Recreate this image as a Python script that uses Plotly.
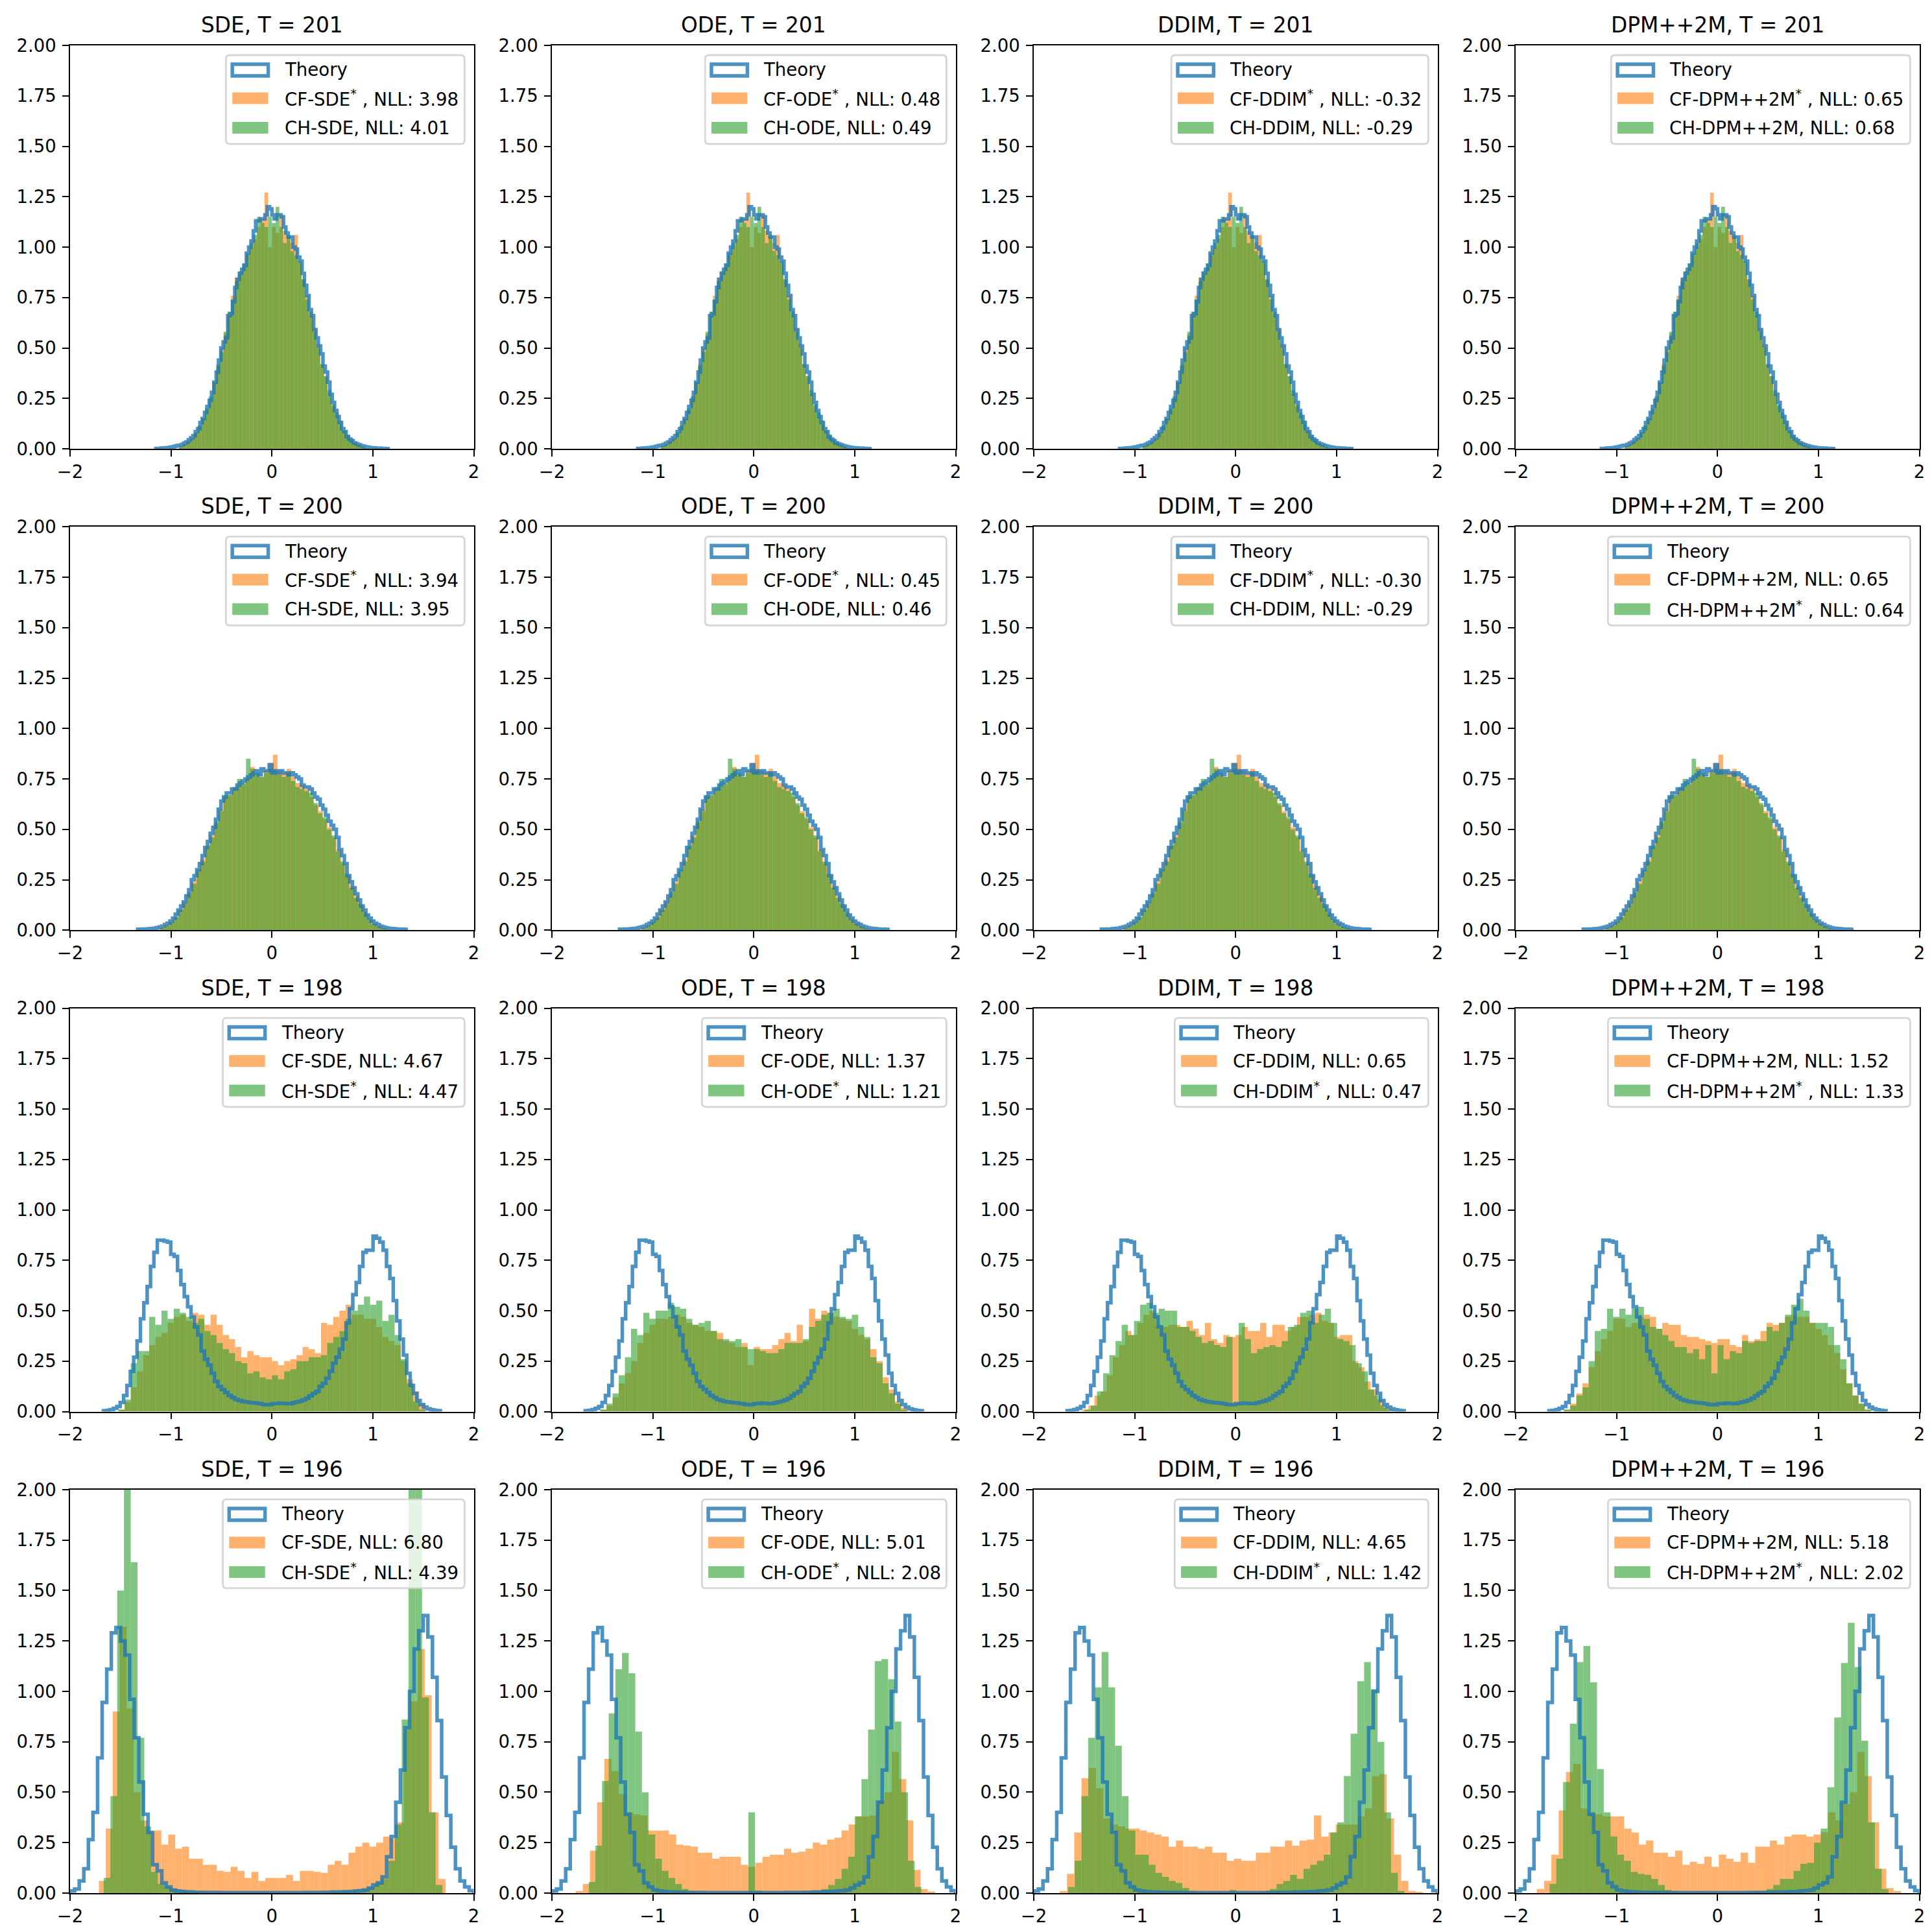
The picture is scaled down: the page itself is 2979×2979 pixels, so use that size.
import plotly.graph_objects as go

# ---------------- data ----------------
SAMPLERS = ["SDE", "ODE", "DDIM", "DPM++2M"]
T_VALUES = [201, 200, 198, 196]

CF_NLL = [[3.98, 0.48, -0.32, 0.65], [3.94, 0.45, -0.30, 0.65],
          [4.67, 1.37, 0.65, 1.52], [6.80, 5.01, 4.65, 5.18]]
CH_NLL = [[4.01, 0.49, -0.29, 0.68], [3.95, 0.46, -0.29, 0.64],
          [4.47, 1.21, 0.47, 1.33], [4.39, 2.08, 1.42, 2.02]]
CF_STAR = [[1, 1, 1, 1], [1, 1, 1, 0], [0, 0, 0, 0], [0, 0, 0, 0]]
CH_STAR = [[0, 0, 0, 0], [0, 0, 0, 1], [1, 1, 1, 1], [1, 1, 1, 1]]

# theory histograms (density), one per T, equal-width bins over the given range
THEORY_RANGE = [(-1.15, 1.15), (-1.33, 1.33), (-1.67, 1.67), (-2.0, 2.0)]
THEORY_T201 = [0.002, 0.002, 0.003, 0.004, 0.005, 0.006, 0.008, 0.010, 0.013, 0.016,
               0.018, 0.022, 0.028, 0.034, 0.045, 0.055, 0.065, 0.085, 0.10, 0.13,
               0.15, 0.18, 0.21, 0.24, 0.28, 0.33, 0.38, 0.44, 0.50, 0.53,
               0.55, 0.66, 0.67, 0.73, 0.80, 0.84, 0.87, 0.89, 0.91, 0.97,
               1.00, 1.03, 1.08, 1.13, 1.13, 1.14, 1.14, 1.16, 1.20, 1.19,
               1.16, 1.14, 1.16, 1.16, 1.15, 1.10, 1.07, 1.05, 1.05, 1.00,
               0.99, 0.95, 0.93, 0.87, 0.81, 0.76, 0.69, 0.66, 0.59, 0.55,
               0.51, 0.47, 0.41, 0.38, 0.33, 0.27, 0.23, 0.19, 0.16, 0.13,
               0.10, 0.085, 0.06, 0.048, 0.04, 0.03, 0.025, 0.02, 0.016, 0.013,
               0.010, 0.008, 0.006, 0.005, 0.004, 0.003, 0.003, 0.002, 0.002, 0.001]
THEORY_T200 = [0.005, 0.005, 0.006, 0.006, 0.007, 0.008, 0.010, 0.013, 0.016, 0.020,
               0.028, 0.035, 0.045, 0.060, 0.080, 0.10, 0.12, 0.14, 0.17, 0.20,
               0.25, 0.27, 0.30, 0.33, 0.37, 0.41, 0.44, 0.48, 0.51, 0.55,
               0.60, 0.64, 0.66, 0.68, 0.68, 0.70, 0.70, 0.72, 0.73, 0.74,
               0.75, 0.76, 0.77, 0.78, 0.79, 0.77, 0.80, 0.79, 0.79, 0.82,
               0.78, 0.79, 0.78, 0.79, 0.78, 0.78, 0.77, 0.78, 0.77, 0.76,
               0.75, 0.72, 0.71, 0.71, 0.70, 0.68, 0.66, 0.65, 0.62, 0.60,
               0.57, 0.54, 0.52, 0.50, 0.46, 0.40, 0.37, 0.33, 0.27, 0.24,
               0.21, 0.18, 0.15, 0.12, 0.10, 0.075, 0.06, 0.045, 0.035, 0.028,
               0.020, 0.016, 0.012, 0.010, 0.008, 0.007, 0.006, 0.005, 0.005, 0.004]
THEORY_T198 = [0.004, 0.006, 0.010, 0.016, 0.025, 0.045, 0.08, 0.13, 0.20, 0.27,
               0.35, 0.46, 0.54, 0.62, 0.72, 0.79, 0.85, 0.85, 0.845, 0.84,
               0.78, 0.77, 0.70, 0.63, 0.57, 0.52, 0.47, 0.42, 0.38, 0.30,
               0.26, 0.23, 0.19, 0.15, 0.125, 0.11, 0.095, 0.08, 0.07, 0.06,
               0.055, 0.05, 0.048, 0.045, 0.044, 0.042, 0.04, 0.036, 0.034, 0.035,
               0.04, 0.04, 0.042, 0.041, 0.04, 0.04, 0.044, 0.048, 0.052, 0.058,
               0.066, 0.078, 0.09, 0.10, 0.125, 0.14, 0.165, 0.20, 0.24, 0.27,
               0.31, 0.36, 0.44, 0.51, 0.58, 0.64, 0.72, 0.79, 0.80, 0.80,
               0.87, 0.86, 0.84, 0.80, 0.72, 0.66, 0.55, 0.45, 0.36, 0.28,
               0.19, 0.13, 0.09, 0.055, 0.035, 0.022, 0.014, 0.009, 0.006, 0.004]
THEORY_T196 = [0.01, 0.02, 0.06, 0.12, 0.265, 0.40, 0.67, 0.945, 1.11, 1.29,
               1.316, 1.25, 1.18, 0.96, 0.77, 0.55, 0.39, 0.30, 0.14, 0.11,
               0.05, 0.03, 0.015, 0.01, 0.008, 0.006, 0.005, 0.004, 0.004, 0.003,
               0.003, 0.003, 0.003, 0.002, 0.002, 0.002, 0.002, 0.002, 0.002, 0.002,
               0.002, 0.002, 0.002, 0.002, 0.002, 0.002, 0.002, 0.002, 0.002, 0.002,
               0.002, 0.003, 0.003, 0.003, 0.003, 0.004, 0.004, 0.005, 0.005, 0.006,
               0.007, 0.008, 0.01, 0.012, 0.015, 0.025, 0.04, 0.05, 0.08, 0.18,
               0.28, 0.45, 0.61, 0.82, 1.00, 1.21, 1.30, 1.376, 1.27, 1.07,
               0.855, 0.575, 0.385, 0.227, 0.12, 0.06, 0.03, 0.012]
THEORY = [THEORY_T201, THEORY_T200, THEORY_T198, THEORY_T196]

# sampled histograms (50 bins each)
CF_T201 = [0.015, 0.025, 0.04, 0.055, 0.08, 0.11, 0.15, 0.19, 0.25, 0.33,
           0.42, 0.50, 0.57, 0.66, 0.76, 0.85, 0.86, 0.90, 0.96, 1.00,
           1.04, 1.10, 1.14, 1.27, 1.00, 1.10, 1.07, 1.16, 1.08, 1.05,
           1.02, 1.06, 0.92, 0.84, 0.76, 0.66, 0.60, 0.52, 0.42, 0.36,
           0.27, 0.21, 0.16, 0.12, 0.09, 0.06, 0.04, 0.03, 0.02, 0.012]
CH_T201 = [0.012, 0.02, 0.035, 0.05, 0.08, 0.115, 0.15, 0.20, 0.26, 0.33,
           0.41, 0.48, 0.58, 0.68, 0.74, 0.83, 0.88, 0.92, 0.97, 1.02,
           1.06, 1.15, 1.12, 1.10, 1.15, 1.12, 1.20, 1.10, 1.02, 1.06,
           0.98, 0.96, 0.93, 0.84, 0.74, 0.68, 0.58, 0.50, 0.42, 0.36,
           0.29, 0.22, 0.18, 0.14, 0.09, 0.07, 0.05, 0.03, 0.02, 0.01]
CF_T200 = [0.012, 0.025, 0.04, 0.06, 0.10, 0.14, 0.18, 0.24, 0.29, 0.35,
           0.41, 0.47, 0.53, 0.60, 0.66, 0.67, 0.70, 0.71, 0.72, 0.75,
           0.81, 0.77, 0.76, 0.79, 0.83, 0.87, 0.79, 0.78, 0.80, 0.76,
           0.73, 0.72, 0.70, 0.66, 0.62, 0.59, 0.55, 0.51, 0.46, 0.40,
           0.33, 0.27, 0.22, 0.17, 0.12, 0.08, 0.05, 0.035, 0.02, 0.01]
CH_T200 = [0.01, 0.022, 0.04, 0.065, 0.10, 0.13, 0.19, 0.23, 0.30, 0.34,
           0.42, 0.46, 0.54, 0.59, 0.67, 0.67, 0.71, 0.75, 0.73, 0.85,
           0.80, 0.78, 0.76, 0.78, 0.80, 0.79, 0.77, 0.76, 0.78, 0.74,
           0.71, 0.70, 0.69, 0.68, 0.63, 0.58, 0.56, 0.50, 0.47, 0.39,
           0.34, 0.28, 0.21, 0.16, 0.13, 0.09, 0.055, 0.03, 0.018, 0.008]

CF_T198_SDE = [0.01, 0.05, 0.12, 0.20, 0.28, 0.33, 0.37, 0.39, 0.44, 0.47,
               0.48, 0.45, 0.49, 0.48, 0.43, 0.48, 0.43, 0.38, 0.36, 0.32,
               0.27, 0.30, 0.28, 0.27, 0.27, 0.25, 0.23, 0.25, 0.26, 0.28,
               0.32, 0.31, 0.29, 0.44, 0.43, 0.47, 0.50, 0.53, 0.48, 0.48,
               0.46, 0.46, 0.42, 0.37, 0.35, 0.33, 0.25, 0.16, 0.10, 0.04]
CH_T198_SDE = [0.01, 0.06, 0.24, 0.30, 0.30, 0.47, 0.43, 0.50, 0.46, 0.51,
               0.49, 0.47, 0.44, 0.46, 0.40, 0.38, 0.34, 0.31, 0.29, 0.25,
               0.24, 0.19, 0.20, 0.17, 0.16, 0.18, 0.16, 0.20, 0.21, 0.25,
               0.25, 0.27, 0.27, 0.28, 0.34, 0.37, 0.40, 0.46, 0.50, 0.53,
               0.57, 0.53, 0.55, 0.45, 0.48, 0.38, 0.26, 0.14, 0.05, 0.01]
CF_T198_ODE = [0.01, 0.03, 0.07, 0.14, 0.19, 0.25, 0.34, 0.39, 0.43, 0.46,
               0.46, 0.47, 0.48, 0.47, 0.44, 0.43, 0.42, 0.40, 0.40, 0.39,
               0.35, 0.34, 0.32, 0.34, 0.23, 0.32, 0.31, 0.31, 0.33, 0.36,
               0.39, 0.35, 0.43, 0.35, 0.51, 0.46, 0.50, 0.49, 0.47, 0.46,
               0.45, 0.41, 0.38, 0.36, 0.31, 0.25, 0.17, 0.11, 0.05, 0.02]
CH_T198_ODE = [0.01, 0.04, 0.09, 0.18, 0.27, 0.41, 0.38, 0.49, 0.46, 0.50,
               0.50, 0.54, 0.52, 0.51, 0.46, 0.43, 0.44, 0.45, 0.40, 0.36,
               0.36, 0.35, 0.36, 0.32, 0.31, 0.31, 0.30, 0.29, 0.29, 0.31,
               0.34, 0.34, 0.34, 0.36, 0.42, 0.45, 0.48, 0.49, 0.51, 0.47,
               0.46, 0.48, 0.42, 0.37, 0.27, 0.24, 0.14, 0.09, 0.04, 0.01]
CF_T198_DDIM = [0.01, 0.03, 0.08, 0.10, 0.18, 0.27, 0.33, 0.40, 0.38, 0.44,
                0.48, 0.50, 0.43, 0.42, 0.43, 0.43, 0.42, 0.45, 0.41, 0.38,
                0.44, 0.36, 0.34, 0.38, 0.37, 0.38, 0.42, 0.40, 0.40, 0.44,
                0.37, 0.43, 0.43, 0.40, 0.42, 0.47, 0.47, 0.48, 0.49, 0.45,
                0.44, 0.37, 0.38, 0.38, 0.25, 0.22, 0.15, 0.11, 0.06, 0.02]
CH_T198_DDIM = [0.01, 0.03, 0.10, 0.19, 0.28, 0.35, 0.43, 0.38, 0.45, 0.53,
                0.54, 0.49, 0.51, 0.50, 0.50, 0.42, 0.42, 0.40, 0.37, 0.34,
                0.35, 0.33, 0.32, 0.37, 0.04, 0.44, 0.36, 0.29, 0.31, 0.32,
                0.33, 0.32, 0.35, 0.42, 0.43, 0.49, 0.50, 0.44, 0.48, 0.51,
                0.44, 0.36, 0.35, 0.33, 0.24, 0.20, 0.11, 0.08, 0.03, 0.01]
CF_T198_DPM = [0.01, 0.04, 0.09, 0.14, 0.22, 0.30, 0.36, 0.40, 0.46, 0.46,
               0.42, 0.44, 0.47, 0.48, 0.47, 0.41, 0.44, 0.43, 0.43, 0.38,
               0.37, 0.37, 0.36, 0.35, 0.34, 0.36, 0.36, 0.33, 0.32, 0.38,
               0.35, 0.36, 0.40, 0.44, 0.43, 0.44, 0.47, 0.48, 0.47, 0.47,
               0.44, 0.41, 0.38, 0.33, 0.29, 0.21, 0.14, 0.08, 0.04, 0.01]
CH_T198_DPM = [0.01, 0.03, 0.08, 0.12, 0.25, 0.40, 0.41, 0.51, 0.47, 0.51,
               0.48, 0.51, 0.52, 0.46, 0.42, 0.41, 0.38, 0.35, 0.32, 0.32,
               0.29, 0.31, 0.26, 0.33, 0.19, 0.33, 0.26, 0.30, 0.29, 0.35,
               0.34, 0.35, 0.35, 0.42, 0.40, 0.44, 0.48, 0.53, 0.56, 0.50,
               0.44, 0.44, 0.44, 0.42, 0.33, 0.26, 0.14, 0.08, 0.04, 0.01]

CF_T196_SDE = [0.06, 0.32, 0.90, 1.32, 0.915, 0.50, 0.36, 0.30, 0.31, 0.24,
               0.29, 0.22, 0.23, 0.17, 0.17, 0.14, 0.14, 0.11, 0.105, 0.13,
               0.11, 0.075, 0.105, 0.06, 0.075, 0.075, 0.075, 0.09, 0.06, 0.11,
               0.11, 0.105, 0.10, 0.14, 0.16, 0.14, 0.20, 0.23, 0.25, 0.23,
               0.25, 0.28, 0.27, 0.35, 0.81, 0.95, 1.21, 0.98, 0.40, 0.07]
CH_T196_SDE = [0.075, 0.48, 1.50, 2.30, 1.64, 0.77, 0.33, 0.105, 0.045, 0.03,
               0.02, 0.015, 0.01, 0.008, 0.006, 0.005, 0.004, 0.004, 0.003, 0.003,
               0.003, 0.003, 0.003, 0.003, 0.003, 0.003, 0.003, 0.003, 0.003, 0.003,
               0.003, 0.004, 0.005, 0.006, 0.008, 0.01, 0.012, 0.015, 0.02, 0.03,
               0.05, 0.07, 0.16, 0.34, 0.86, 2.20, 2.20, 0.97, 0.40, 0.04]
CF_T196_ODE = [0.01, 0.045, 0.21, 0.45, 0.665, 0.605, 0.49, 0.40, 0.39, 0.385,
               0.31, 0.31, 0.31, 0.29, 0.24, 0.235, 0.23, 0.20, 0.20, 0.17,
               0.18, 0.18, 0.18, 0.14, 0.13, 0.15, 0.18, 0.19, 0.19, 0.22,
               0.20, 0.205, 0.22, 0.25, 0.24, 0.265, 0.275, 0.31, 0.34, 0.38,
               0.38, 0.385, 0.46, 0.50, 0.70, 0.565, 0.36, 0.115, 0.02, 0.008]
CH_T196_ODE = [0.055, 0.235, 0.555, 0.89, 1.11, 1.19, 1.09, 0.80, 0.50, 0.29,
               0.17, 0.11, 0.075, 0.045, 0.02, 0.01, 0.005, 0.004, 0.003, 0.003,
               0.002, 0.002, 0.002, 0.002, 0.40, 0.012, 0.002, 0.002, 0.003, 0.003,
               0.004, 0.004, 0.005, 0.008, 0.012, 0.02, 0.04, 0.07, 0.12, 0.18,
               0.38, 0.565, 0.81, 1.15, 1.16, 1.06, 0.85, 0.50, 0.16, 0.03]
CF_T196_DDIM = [0.01, 0.095, 0.30, 0.57, 0.62, 0.52, 0.37, 0.34, 0.33, 0.32,
                0.32, 0.31, 0.30, 0.29, 0.28, 0.23, 0.26, 0.23, 0.23, 0.22,
                0.23, 0.20, 0.20, 0.16, 0.17, 0.16, 0.16, 0.20, 0.20, 0.23,
                0.23, 0.26, 0.235, 0.26, 0.265, 0.385, 0.28, 0.30, 0.34, 0.34,
                0.34, 0.38, 0.42, 0.58, 0.59, 0.37, 0.19, 0.06, 0.01, 0.005]
CH_T196_DDIM = [0.03, 0.16, 0.48, 0.77, 1.02, 1.195, 1.02, 0.73, 0.48, 0.31,
                0.19, 0.19, 0.14, 0.10, 0.08, 0.06, 0.05, 0.025, 0.01, 0.006,
                0.005, 0.004, 0.004, 0.003, 0.015, 0.004, 0.003, 0.004, 0.005, 0.008,
                0.02, 0.045, 0.06, 0.09, 0.07, 0.12, 0.14, 0.16, 0.19, 0.30,
                0.35, 0.58, 0.79, 1.05, 1.145, 1.01, 0.75, 0.40, 0.10, 0.01]
CF_T196_DPM = [0.02, 0.06, 0.19, 0.41, 0.60, 0.64, 0.42, 0.40, 0.39, 0.38,
               0.38, 0.38, 0.32, 0.30, 0.24, 0.26, 0.20, 0.20, 0.18, 0.21,
               0.14, 0.155, 0.145, 0.18, 0.13, 0.19, 0.17, 0.155, 0.20, 0.15,
               0.23, 0.23, 0.26, 0.24, 0.28, 0.29, 0.29, 0.28, 0.29, 0.30,
               0.40, 0.36, 0.44, 0.50, 0.70, 0.58, 0.35, 0.12, 0.025, 0.01]
CH_T196_DPM = [0.045, 0.17, 0.55, 0.84, 1.145, 1.225, 1.045, 0.615, 0.40, 0.28,
               0.19, 0.16, 0.105, 0.095, 0.09, 0.07, 0.04, 0.015, 0.008, 0.005,
               0.004, 0.003, 0.003, 0.003, 0.003, 0.003, 0.003, 0.004, 0.005, 0.006,
               0.008, 0.01, 0.02, 0.04, 0.07, 0.07, 0.11, 0.145, 0.15, 0.25,
               0.32, 0.525, 0.87, 1.14, 1.34, 1.12, 0.755, 0.35, 0.12, 0.02]

CF_HIST = [[CF_T201] * 4, [CF_T200] * 4,
           [CF_T198_SDE, CF_T198_ODE, CF_T198_DDIM, CF_T198_DPM],
           [CF_T196_SDE, CF_T196_ODE, CF_T196_DDIM, CF_T196_DPM]]
CH_HIST = [[CH_T201] * 4, [CH_T200] * 4,
           [CH_T198_SDE, CH_T198_ODE, CH_T198_DDIM, CH_T198_DPM],
           [CH_T196_SDE, CH_T196_ODE, CH_T196_DDIM, CH_T196_DPM]]
CF_RANGE = [[(-0.92, 0.92)] * 4, [(-1.12, 1.14)] * 4, [(-1.52, 1.52)] * 4,
            [(-1.714, 1.72), (-1.765, 1.795), (-1.743, 1.856), (-1.79, 1.817)]]
CH_RANGE = [[(-0.92, 0.92)] * 4, [(-1.10, 1.12)] * 4,
            [(-1.52, 1.52), (-1.52, 1.52), (-1.495, 1.555), (-1.52, 1.52)],
            [(-1.667, 1.689), (-1.635, 1.66), (-1.661, 1.673), (-1.664, 1.694)]]

# ---------------- styling / layout ----------------
W = H = 2979
FONT = "DejaVu Sans"
FS_TICK = 27.5
FS_TITLE = 32.8
FS_LEG = 27.6
BLUE = "rgba(31,119,180,0.8)"
ORANGE = "rgba(255,127,14,0.6)"
GREEN = "rgba(44,160,44,0.6)"

AX_LEFT0, AX_STEP_X, AX_W = 100.0, 743.0, 622.5
AX_TOP0, AX_STEP_Y, AX_H = 62.0, 742.3, 622.0

CW = {'C': 0.698, 'F': 0.575, 'S': 0.635, 'D': 0.770, 'E': 0.632, 'O': 0.787,
      'I': 0.295, 'M': 0.863, 'P': 0.603, 'N': 0.748, 'L': 0.557, 'H': 0.752,
      'T': 0.611, 'h': 0.634, 'e': 0.615, 'o': 0.612, 'r': 0.411, 'y': 0.592,
      '-': 0.361, ',': 0.318, ':': 0.337, ' ': 0.318, '.': 0.318, '+': 0.838, '*': 0.5}


def tw(s):
    return sum(CW.get(ch, 0.636) for ch in s)


def edges(lo, hi, n):
    step = (hi - lo) / n
    return [lo + step * i for i in range(n + 1)]


def px_x(p):
    return p / W


def px_y(p):
    return 1 - p / H


def rrect(x0, y0, x1, y1, r):
    rx, ry = r / W, r / H
    return (f"M {x0+rx},{y0} L {x1-rx},{y0} Q {x1},{y0} {x1},{y0+ry} "
            f"L {x1},{y1-ry} Q {x1},{y1} {x1-rx},{y1} L {x0+rx},{y1} "
            f"Q {x0},{y1} {x0},{y1-ry} L {x0},{y0+ry} Q {x0},{y0} {x0+rx},{y0} Z")


fig = go.Figure()
shapes = []
annotations = []
layout_axes = {}

for r in range(4):
    for c in range(4):
        n = r * 4 + c + 1
        xa = "x" if n == 1 else f"x{n}"
        ya = "y" if n == 1 else f"y{n}"
        left = AX_LEFT0 + AX_STEP_X * c
        top = AX_TOP0 + AX_STEP_Y * r
        right = left + AX_W
        bottom = top + AX_H

        # theory step line
        th = THEORY[r]
        e = edges(THEORY_RANGE[r][0], THEORY_RANGE[r][1], len(th))
        xs = [e[0]] + e[:-1] + [e[-1], e[-1]]
        ys = [0] + th + [th[-1], 0]
        fig.add_trace(go.Scatter(x=xs, y=ys, mode="lines", line_shape="hv",
                                 line=dict(color=BLUE, width=5.5), xaxis=xa, yaxis=ya,
                                 hoverinfo="skip"))
        # CF and CH bars
        for hist, rng, col in ((CF_HIST[r][c], CF_RANGE[r][c], ORANGE),
                               (CH_HIST[r][c], CH_RANGE[r][c], GREEN)):
            e = edges(rng[0], rng[1], len(hist))
            wdt = e[1] - e[0]
            centers = [(e[i] + e[i + 1]) / 2 for i in range(len(hist))]
            fig.add_trace(go.Bar(x=centers, y=hist, width=wdt, xaxis=xa, yaxis=ya,
                                 marker=dict(color=col, line=dict(width=0)),
                                 hoverinfo="skip"))

        common = dict(showline=True, linecolor="black", linewidth=2.2, mirror=True,
                      ticks="outside", ticklen=9.6, tickwidth=2.2, tickcolor="black",
                      showgrid=False, zeroline=False, automargin=False,
                      tickfont=dict(family=FONT, size=FS_TICK, color="black"))
        xkey = "xaxis" if n == 1 else f"xaxis{n}"
        ykey = "yaxis" if n == 1 else f"yaxis{n}"
        layout_axes[xkey] = dict(domain=[left / W, right / W], range=[-2, 2],
                                 tickmode="array", tickvals=[-2, -1, 0, 1, 2],
                                 anchor=ya, ticklabelstandoff=0, **common)
        layout_axes[ykey] = dict(domain=[1 - bottom / H, 1 - top / H], range=[0, 2],
                                 tickmode="array", tickvals=[0, 0.25, 0.5, 0.75, 1, 1.25, 1.5, 1.75, 2],
                                 ticktext=["0.00", "0.25", "0.50", "0.75", "1.00", "1.25", "1.50", "1.75", "2.00"],
                                 anchor=xa, ticklabelstandoff=4, **common)

        # title
        annotations.append(dict(text=f"{SAMPLERS[c]}, T = {T_VALUES[r]}", xref="paper", yref="paper",
                                x=px_x((left + right) / 2), y=px_y(top - 10), xanchor="center",
                                yanchor="bottom", showarrow=False,
                                font=dict(family=FONT, size=FS_TITLE, color="black")))

        # legend (drawn manually, matplotlib style)
        name = SAMPLERS[c]
        labels = []
        widths = [tw("Theory")]
        for pre, val, star in (("CF", CF_NLL[r][c], CF_STAR[r][c]), ("CH", CH_NLL[r][c], CH_STAR[r][c])):
            base = f"{pre}-{name}"
            rest = f", NLL: {val:.2f}"
            txt = base + ("<sup>*</sup> " if star else "") + rest
            labels.append(txt)
            widths.append(tw(base) + tw(rest) + (0.5 * 0.7 + 0.318 if star else 0))
        tmax = max(widths) * FS_LEG
        box_r = right - 14.2
        text_r = box_r - 11.5
        text_l = text_r - tmax
        patch_r = text_l - 23
        patch_l = patch_r - 55.4
        box_l = patch_l - 9.8
        box_t = top + 15
        box_b = top + 152
        shapes.append(dict(type="path", xref="paper", yref="paper", layer="above",
                           path=rrect(px_x(box_l), px_y(box_b), px_x(box_r), px_y(box_t), 6),
                           fillcolor="rgba(255,255,255,0.8)",
                           line=dict(color="rgba(204,204,204,0.8)", width=2.8)))
        rows_y = [top + 38, top + 81.5, top + 127]
        hh = 18
        shapes.append(dict(type="rect", xref="paper", yref="paper", layer="above",
                           x0=px_x(patch_l), x1=px_x(patch_r),
                           y0=px_y(rows_y[0] + hh / 2), y1=px_y(rows_y[0] - hh / 2),
                           fillcolor="rgba(0,0,0,0)", line=dict(color=BLUE, width=5.5)))
        for k, colr in ((1, ORANGE), (2, GREEN)):
            shapes.append(dict(type="rect", xref="paper", yref="paper", layer="above",
                               x0=px_x(patch_l), x1=px_x(patch_r),
                               y0=px_y(rows_y[k] + hh / 2), y1=px_y(rows_y[k] - hh / 2),
                               fillcolor=colr, line=dict(width=0)))
        for k, txt in enumerate(["Theory"] + labels):
            annotations.append(dict(text=txt, xref="paper", yref="paper",
                                    x=px_x(text_l), y=px_y(rows_y[k]), xanchor="left",
                                    yanchor="middle", showarrow=False,
                                    font=dict(family=FONT, size=FS_LEG, color="black")))

fig.update_layout(width=W, height=H, margin=dict(l=0, r=0, t=0, b=0),
                  paper_bgcolor="white", plot_bgcolor="white", showlegend=False,
                  barmode="overlay", shapes=shapes, annotations=annotations,
                  font=dict(family=FONT, color="black"), **layout_axes)

fig.write_html("out.html")
